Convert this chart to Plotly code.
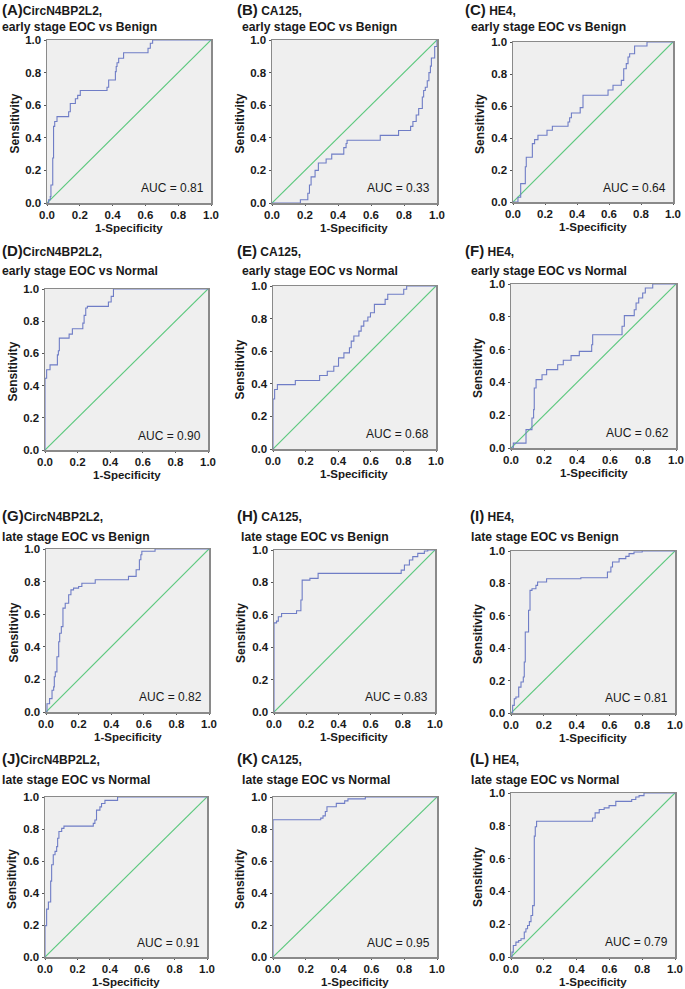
import plotly.graph_objects as go

W, H = 685, 989
FONT = "Liberation Sans, Arial, Helvetica, sans-serif"

# ---------------- data ----------------
letters = ["A", "B", "C", "D", "E", "F", "G", "H", "I", "J", "K", "L"]
markers = ["CircN4BP2L2,", "CA125,", "HE4,"] * 4
marker_gap = ["", " ", " "] * 4
comparisons = (["early stage EOC vs Benign"] * 3 + ["early stage EOC vs Normal"] * 3 +
               ["late stage EOC vs Benign"] * 3 + ["late stage EOC vs Normal"] * 3)
auc_values = [0.81, 0.33, 0.64, 0.90, 0.68, 0.62, 0.82, 0.83, 0.81, 0.91, 0.95, 0.79]
x_ticks = [0.0, 0.2, 0.4, 0.6, 0.8, 1.0]
tick_text = ["0.0", "0.2", "0.4", "0.6", "0.8", "1.0"]

a_fpr = [0, 0.01, 0.02, 0.024, 0.035, 0.04, 0.047, 0.061, 0.132, 0.142, 0.173, 0.187, 0.203, 0.366, 0.376, 0.417, 0.422, 0.427, 0.437, 0.467, 0.616, 0.63, 0.644, 1.0]
a_tpr = [0, 0.02, 0.04, 0.11, 0.276, 0.47, 0.50, 0.53, 0.56, 0.61, 0.64, 0.66, 0.69, 0.71, 0.755, 0.806, 0.837, 0.86, 0.888, 0.922, 0.949, 0.98, 1.0, 1.0]

b_fpr = [0, 0.172, 0.217, 0.227, 0.237, 0.261, 0.281, 0.328, 0.362, 0.435, 0.449, 0.455, 0.656, 0.767, 0.84, 0.854, 0.874, 0.889, 0.911, 0.919, 0.929, 0.941, 0.951, 0.96, 0.966, 0.986, 1.0]
b_tpr = [0, 0.02, 0.06, 0.11, 0.16, 0.20, 0.245, 0.27, 0.30, 0.34, 0.365, 0.385, 0.415, 0.445, 0.47, 0.50, 0.54, 0.58, 0.65, 0.69, 0.71, 0.75, 0.80, 0.84, 0.89, 0.96, 1.0]

c_fpr = [0, 0.031, 0.048, 0.077, 0.083, 0.121, 0.135, 0.156, 0.2125, 0.246, 0.344, 0.354, 0.365, 0.42, 0.4375, 0.594, 0.625, 0.677, 0.692, 0.708, 0.719, 0.729, 0.76, 0.8375, 1.0]
c_tpr = [0, 0.03, 0.115, 0.22, 0.28, 0.365, 0.39, 0.417, 0.448, 0.473, 0.5, 0.527, 0.556, 0.59, 0.667, 0.70, 0.73, 0.76, 0.833, 0.865, 0.906, 0.927, 0.975, 1.0, 1.0]

d_fpr = [0, 0, 0.01, 0.031, 0.076, 0.082, 0.088, 0.148, 0.168, 0.232, 0.24, 0.25, 0.26, 0.389, 0.406, 0.42, 1.0]
d_tpr = [0, 0.446, 0.498, 0.529, 0.591, 0.616, 0.695, 0.72, 0.753, 0.788, 0.836, 0.882, 0.892, 0.919, 0.954, 1.0, 1.0]

e_fpr = [0, 0, 0.01, 0.027, 0.137, 0.286, 0.333, 0.373, 0.402, 0.435, 0.469, 0.48, 0.496, 0.527, 0.541, 0.557, 0.582, 0.598, 0.622, 0.688, 0.704, 0.802, 0.82, 1.0]
e_tpr = [0, 0.307, 0.365, 0.395, 0.42, 0.451, 0.477, 0.508, 0.559, 0.59, 0.621, 0.662, 0.693, 0.723, 0.754, 0.785, 0.81, 0.836, 0.887, 0.918, 0.949, 0.98, 1.0, 1.0]

f_fpr = [0, 0.014, 0.091, 0.127, 0.137, 0.141, 0.152, 0.188, 0.216, 0.283, 0.317, 0.364, 0.414, 0.489, 0.495, 0.673, 0.687, 0.747, 0.758, 0.774, 0.798, 0.814, 0.859, 1.0]
f_tpr = [0, 0.03, 0.112, 0.183, 0.234, 0.366, 0.417, 0.447, 0.478, 0.508, 0.535, 0.563, 0.589, 0.63, 0.691, 0.742, 0.807, 0.843, 0.884, 0.915, 0.945, 0.976, 1.0, 1.0]

g_fpr = [0, 0.006, 0.022, 0.037, 0.047, 0.051, 0.057, 0.067, 0.078, 0.084, 0.094, 0.104, 0.118, 0.139, 0.153, 0.169, 0.2, 0.22, 0.302, 0.506, 0.553, 0.573, 0.582, 0.588, 0.669, 1.0]
g_tpr = [0, 0.051, 0.082, 0.133, 0.154, 0.216, 0.246, 0.339, 0.431, 0.483, 0.524, 0.637, 0.667, 0.719, 0.749, 0.76, 0.77, 0.79, 0.811, 0.832, 0.873, 0.934, 0.965, 0.986, 1.0, 1.0]

h_fpr = [0, 0, 0.016, 0.027, 0.047, 0.14, 0.167, 0.175, 0.223, 0.274, 0.79, 0.81, 0.841, 0.862, 0.893, 0.934, 0.955, 1.0]
h_tpr = [0, 0.55, 0.561, 0.588, 0.608, 0.625, 0.691, 0.814, 0.825, 0.856, 0.876, 0.907, 0.938, 0.959, 0.979, 0.994, 1.0, 1.0]

i_fpr = [0, 0.01, 0.02, 0.03, 0.047, 0.061, 0.075, 0.081, 0.087, 0.107, 0.116, 0.128, 0.152, 0.162, 0.217, 0.426, 0.588, 0.609, 0.619, 0.659, 0.7, 0.72, 0.75, 0.80, 1.0]
i_tpr = [0, 0.047, 0.088, 0.099, 0.16, 0.191, 0.222, 0.315, 0.5, 0.634, 0.757, 0.767, 0.788, 0.809, 0.829, 0.835, 0.87, 0.901, 0.932, 0.953, 0.967, 0.984, 0.994, 1.0, 1.0]

j_fpr = [0, 0, 0.01, 0.021, 0.035, 0.041, 0.051, 0.062, 0.072, 0.078, 0.086, 0.103, 0.117, 0.298, 0.308, 0.318, 0.339, 0.349, 0.37, 0.448, 1.0]
j_tpr = [0, 0.196, 0.299, 0.344, 0.474, 0.577, 0.639, 0.66, 0.69, 0.742, 0.784, 0.804, 0.818, 0.835, 0.856, 0.918, 0.938, 0.959, 0.979, 1.0, 1.0]

k_fpr = [0, 0, 0.291, 0.305, 0.319, 0.329, 0.386, 0.437, 0.457, 0.563, 1.0]
k_tpr = [0, 0.858, 0.868, 0.882, 0.909, 0.939, 0.96, 0.976, 0.988, 1.0, 1.0]

l_fpr = [0, 0.006, 0.014, 0.03, 0.047, 0.061, 0.081, 0.091, 0.101, 0.112, 0.122, 0.132, 0.142, 0.148, 0.156, 0.497, 0.513, 0.538, 0.568, 0.598, 0.639, 0.736, 0.761, 0.781, 0.811, 1.0]
l_tpr = [0, 0.03, 0.07, 0.091, 0.101, 0.111, 0.152, 0.172, 0.192, 0.216, 0.253, 0.313, 0.737, 0.794, 0.828, 0.848, 0.879, 0.899, 0.909, 0.923, 0.949, 0.96, 0.976, 0.984, 1.0, 1.0]

curves = [(a_fpr, a_tpr), (b_fpr, b_tpr), (c_fpr, c_tpr), (d_fpr, d_tpr),
          (e_fpr, e_tpr), (f_fpr, f_tpr), (g_fpr, g_tpr), (h_fpr, h_tpr),
          (i_fpr, i_tpr), (j_fpr, j_tpr), (k_fpr, k_tpr), (l_fpr, l_tpr)]
ref_line = [0, 1]

# ---------------- layout (pixel boxes of each panel) ----------------
boxes = [  # left, right, top, bottom in px
    (47, 211, 40, 203), (272, 437, 40, 203), (513, 673, 42, 202),
    (45, 208, 289, 450), (273, 436, 286, 449), (511, 676, 284, 448),
    (46, 209, 549, 712), (274, 435, 550, 712), (511, 675, 551, 713),
    (45, 207, 797, 957), (273, 437, 797, 957), (511, 675, 793, 957),
]
title_pos = [  # x1, y1, x2, y2 in px
    (0, 10, 0, 27), (235, 10, 240, 27), (463, 10, 469, 27),
    (0, 250, 0, 271), (235, 250, 240, 271), (463, 250, 469, 271),
    (0, 515, 0, 537), (235, 515, 239, 537), (468, 515, 469, 537),
    (0, 758, 0, 780), (235, 758, 240, 780), (468, 758, 469, 780),
]

def px(x):
    return x / W

def py(y):
    return 1 - y / H

BLUE = "#6f7dc6"
GREEN = "#5cc87e"
AXIS = "#8a8a8a"
TXT = "#1a1a1a"

fig = go.Figure()
annotations = []
layout_axes = {}
for i in range(12):
    n = i + 1
    xa = "x" if n == 1 else f"x{n}"
    ya = "y" if n == 1 else f"y{n}"
    l, r, t, b = boxes[i]
    fpr, tpr = curves[i]
    fig.add_trace(go.Scatter(x=ref_line, y=ref_line, mode="lines",
                             line=dict(color=GREEN, width=1.2), xaxis=xa, yaxis=ya,
                             showlegend=False, hoverinfo="skip"))
    fig.add_trace(go.Scatter(x=fpr, y=tpr, mode="lines", line_shape="hv",
                             line=dict(color=BLUE, width=1.1), xaxis=xa, yaxis=ya,
                             showlegend=False))
    common = dict(range=[0, 1], tickvals=x_ticks, ticktext=tick_text,
                  showgrid=False, zeroline=False, showline=True, mirror=True,
                  linecolor=AXIS, linewidth=1.5, ticks="outside",
                  tickcolor="#555555", tickwidth=1, automargin=False,
                  tickfont=dict(family=FONT, size=11.5, color=TXT, weight="bold"),
                  fixedrange=True)
    layout_axes["xaxis" if n == 1 else f"xaxis{n}"] = dict(
        domain=[px(l), px(r)], anchor=ya, ticklen=1, **common)
    layout_axes["yaxis" if n == 1 else f"yaxis{n}"] = dict(
        domain=[py(b), py(t)], anchor=xa, ticklen=2, **common)

    # titles
    x1, y1, x2, y2 = title_pos[i]
    annotations.append(dict(
        x=px(x1), y=py(y1), xref="paper", yref="paper", xanchor="left", yanchor="middle",
        showarrow=False,
        text=(f"<b><span style='font-size:15px'>({letters[i]})</span>{marker_gap[i]}"
              f"<span style='font-size:12px'>{markers[i]}</span></b>"),
        font=dict(family=FONT, size=12, color=TXT)))
    annotations.append(dict(
        x=px(x2), y=py(y2), xref="paper", yref="paper", xanchor="left", yanchor="middle",
        showarrow=False, text=f"<b>{comparisons[i]}</b>",
        font=dict(family=FONT, size=12.2, color=TXT)))
    # axis titles
    annotations.append(dict(
        x=px((l + r) / 2), y=py(b + 25), xref="paper", yref="paper",
        xanchor="center", yanchor="middle", showarrow=False,
        text="<b>1-Specificity</b>", font=dict(family=FONT, size=11.5, color=TXT)))
    annotations.append(dict(
        x=px(l - 33), y=py((t + b) / 2 + 2), xref="paper", yref="paper",
        xanchor="center", yanchor="middle", showarrow=False, textangle=-90,
        text="<b>Sensitivity</b>", font=dict(family=FONT, size=12, color=TXT)))
    # AUC
    annotations.append(dict(
        x=0.97, y=0.09, xref=xa, yref=ya, xanchor="right", yanchor="middle",
        showarrow=False, text=f"AUC = {auc_values[i]:.2f}",
        font=dict(family=FONT, size=12, color=TXT)))

fig.update_layout(
    template="none",
    width=W, height=H, margin=dict(l=0, r=0, t=0, b=0, pad=0, autoexpand=False),
    paper_bgcolor="white", plot_bgcolor="#efefef",
    annotations=annotations, showlegend=False, **layout_axes)

fig.write_html("out.html", config={"displayModeBar": False, "staticPlot": True},
               post_script="document.body.style.margin='0';document.body.style.padding='0';")
